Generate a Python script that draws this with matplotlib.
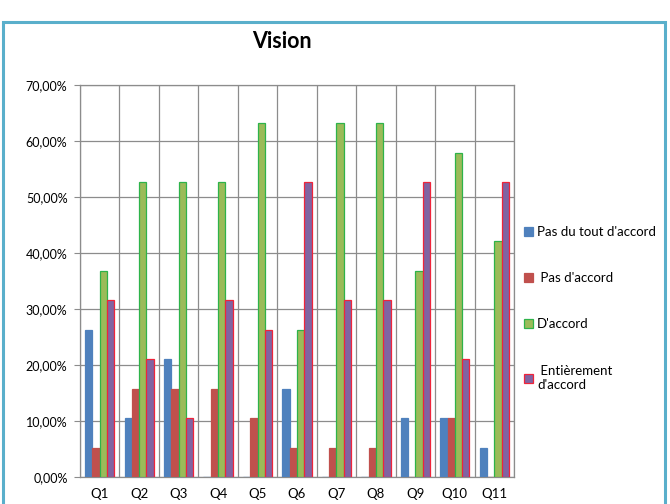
import matplotlib
matplotlib.use("Agg")
import matplotlib.pyplot as plt
import numpy as np
from matplotlib.patches import Rectangle

plt.rcParams['font.family'] = ['Lato', 'DejaVu Sans']

categories = ["Q1", "Q2", "Q3", "Q4", "Q5", "Q6", "Q7", "Q8", "Q9", "Q10", "Q11"]
pas_du_tout = [26.32, 10.53, 21.05, 0, 0, 15.79, 0, 0, 10.53, 10.53, 5.26]
pas_accord = [5.26, 15.79, 15.79, 15.79, 10.53, 5.26, 5.26, 5.26, 0, 10.53, 0]
accord = [36.84, 52.63, 52.63, 52.63, 63.16, 26.32, 63.16, 63.16, 36.84, 57.89, 42.11]
entierement = [31.58, 21.05, 10.53, 31.58, 26.32, 52.63, 31.58, 31.58, 52.63, 21.05, 52.63]
series_labels = ["Pas du tout d'accord", " Pas d'accord", "D'accord", " Entièrement\nd'accord"]
yticks = [0, 10, 20, 30, 40, 50, 60, 70]

fig = plt.figure(figsize=(6.7, 5.04), dpi=100)
fig.patch.set_facecolor('white')
# outer frame
fig.patches.append(Rectangle((3/670, -0.01), 662/670, 1 - 22/504 + 0.01, transform=fig.transFigure,
                             fill=False, edgecolor='#5AAFCB', linewidth=2.2))

ax = fig.add_axes([80/670, 27/504, 434/670, 392/504])
x = np.arange(len(categories))
w = 0.185
series = [pas_du_tout, pas_accord, accord, entierement]
faces = ['#4F81BD', '#C0504D', '#9BBB59', '#8064A2']
edges = ['#4F81BD', '#C0504D', '#2EB34A', '#F0243A']
handles = []
for i, (vals, fc, ec) in enumerate(zip(series, faces, edges)):
    b = ax.bar(x + (i - 1.5) * w, vals, w, color=fc, edgecolor=ec, linewidth=0.9, zorder=3, label=series_labels[i])
    handles.append(b)

ax.set_xlim(-0.5, len(categories) - 0.5)
ax.set_ylim(0, 70)
ax.set_yticks(yticks)
ax.set_yticklabels([f"{v:.2f}%".replace('.', ',') for v in yticks], fontsize=9)
ax.set_xticks(x)
ax.set_xticklabels(categories, fontsize=9.5)
ax.set_xticks(np.arange(len(categories) + 1) - 0.5, minor=True)
ax.grid(axis='y', which='major', color='#8C8C8C', linewidth=0.9, zorder=0)
ax.grid(axis='x', which='minor', color='#8C8C8C', linewidth=0.9, zorder=0)
ax.tick_params(axis='x', which='both', length=0, pad=8)
ax.tick_params(axis='y', length=4, color='#8C8C8C', pad=5)
for s in ax.spines.values():
    s.set_color('#8C8C8C')
    s.set_linewidth(0.9)

fig.text(282/670, 1 - 42/504, "Vision", ha='center', va='center', fontsize=15.5, fontweight='bold')

leg = fig.legend(handles=handles, labels=series_labels, loc='upper left',
                 bbox_to_anchor=(512/670, 1 - 214/504), frameon=False, fontsize=9.5,
                 handlelength=0.7, handleheight=0.7, handletextpad=0.3, labelspacing=2.6)

fig.savefig("out.png", dpi=100, facecolor='white')
